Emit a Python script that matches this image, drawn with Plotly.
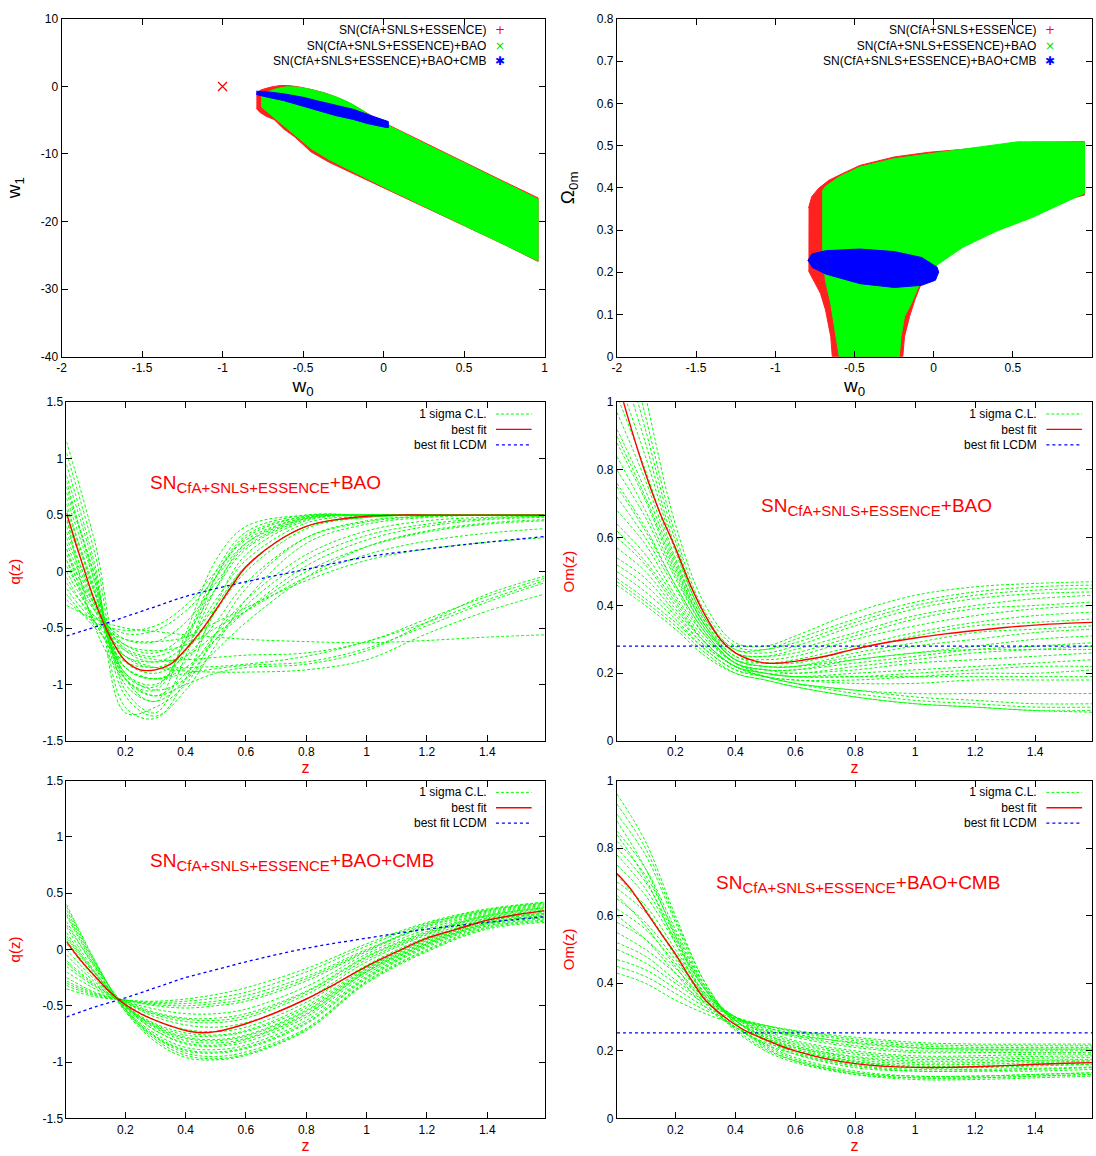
import plotly.graph_objects as go

W, H = 1096, 1156
FONT = "Liberation Sans"

# ---------------- data ----------------
# (a) w0 - w1 plane : boundaries of the confidence regions
sn_w0 = [-0.79, -0.76, -0.70, -0.64, -0.58, -0.52, -0.44, -0.36, -0.28, -0.20, -0.12, -0.05, 0.03, 0.25, 0.50, 0.75, 0.96,
         0.96, 0.75, 0.50, 0.25, 0.03, -0.19, -0.34, -0.45, -0.55, -0.62, -0.68, -0.73, -0.77, -0.79]
sn_w1 = [-1.0, -0.5, -0.1, 0.15, 0.1, -0.1, -0.5, -1.0, -1.7, -2.6, -3.7, -4.7, -5.7, -8.3, -11.2, -14.1, -16.5,
         -25.9, -23.4, -20.6, -17.8, -15.3, -12.9, -11.2, -9.7, -7.5, -6.3, -4.9, -4.4, -3.8, -3.2]
bao_w0 = [-0.76, -0.72, -0.66, -0.60, -0.54, -0.46, -0.38, -0.30, -0.22, -0.14, -0.06, 0.03, 0.25, 0.50, 0.75, 0.96,
          0.96, 0.75, 0.50, 0.25, 0.03, -0.19, -0.34, -0.45, -0.53, -0.60, -0.66, -0.72, -0.76]
bao_w1 = [-1.3, -0.8, -0.3, -0.05, -0.1, -0.4, -0.9, -1.5, -2.3, -3.4, -4.7, -5.8, -8.4, -11.3, -14.2, -16.7,
          -25.8, -23.4, -20.6, -17.8, -15.2, -12.6, -10.8, -9.2, -7.6, -6.3, -5.0, -3.8, -3.0]
cmb_w0 = [-0.79, -0.70, -0.62, -0.50, -0.40, -0.30, -0.186, -0.08, 0.0, 0.03, 0.03, 0.0, -0.10, -0.186, -0.30, -0.40,
          -0.50, -0.62, -0.72, -0.79]
cmb_w1 = [-0.7, -0.85, -1.1, -1.6, -2.2, -2.8, -3.4, -4.3, -4.9, -5.2, -6.1, -6.0, -5.5, -4.9, -4.3, -3.6,
          -2.9, -2.1, -1.6, -1.2]
lcdm_w0 = [-1.0]
lcdm_w1 = [0.0]

# (b) w0 - Omega_0m plane
sn_b_w0 = [-0.79, -0.77, -0.726, -0.661, -0.574, -0.466, -0.249, -0.032, 0.184, 0.618, 0.953, 0.953, 0.726, 0.509,
           0.292, 0.184, 0.054, -0.032, -0.087, -0.119, -0.152, -0.184, -0.195, -0.64, -0.65, -0.665, -0.683,
           -0.715, -0.758, -0.791]
sn_b_om = [0.352, 0.379, 0.399, 0.418, 0.434, 0.453, 0.473, 0.484, 0.491, 0.508, 0.509, 0.383, 0.360, 0.329,
           0.290, 0.266, 0.235, 0.204, 0.165, 0.134, 0.095, 0.048, 0.0, 0.0, 0.048, 0.079, 0.111,
           0.150, 0.181, 0.204]
bao_b_w0 = [-0.704, -0.683, -0.596, -0.466, -0.249, 0.184, 0.531, 0.953, 0.953, 0.618, 0.401, 0.184, 0.032, -0.06,
            -0.097, -0.141, -0.184, -0.206, -0.217, -0.596, -0.628, -0.65, -0.683, -0.704]
bao_b_om = [0.391, 0.403, 0.426, 0.449, 0.469, 0.491, 0.509, 0.508, 0.387, 0.329, 0.298, 0.259, 0.220, 0.19,
            0.165, 0.126, 0.095, 0.048, 0.0, 0.0, 0.079, 0.126, 0.181, 0.25]
cmb_b_w0 = [-0.795, -0.769, -0.683, -0.466, -0.249, -0.076, 0.022, 0.032, 0.011, -0.076, -0.249, -0.466, -0.683, -0.769]
cmb_b_om = [0.227, 0.243, 0.251, 0.255, 0.249, 0.235, 0.212, 0.200, 0.181, 0.169, 0.164, 0.173, 0.196, 0.212]

# redshift samples
z_grid = [0.005, 0.1, 0.2, 0.3, 0.4, 0.5, 0.6, 0.8, 1.0, 1.2, 1.4, 1.59]
z_fit = [0.005, 0.05, 0.1, 0.15, 0.2, 0.25, 0.3, 0.35, 0.4, 0.45, 0.5, 0.55, 0.6, 0.7, 0.8, 0.9, 1.0,
         1.1, 1.2, 1.3, 1.4, 1.5, 1.59]

# (c) q(z), SN+BAO : 1-sigma curves sampled at z_grid
q_bao_sigma = [
    [1.15, 0.25, -0.95, -1.15, -0.55, 0.10, 0.40, 0.50, 0.50, 0.50, 0.50, 0.50],
    [1.05, 0.15, -1.05, -1.25, -0.75, -0.05, 0.32, 0.49, 0.50, 0.50, 0.50, 0.50],
    [0.95, 0.05, -1.20, -1.30, -0.95, -0.30, 0.15, 0.45, 0.50, 0.50, 0.50, 0.50],
    [0.85, 0.00, -1.25, -1.20, -1.00, -0.55, -0.15, 0.30, 0.45, 0.49, 0.50, 0.50],
    [0.75, -0.05, -0.95, -1.05, -0.60, 0.00, 0.35, 0.50, 0.50, 0.50, 0.50, 0.50],
    [0.65, -0.10, -0.90, -1.00, -0.70, -0.15, 0.25, 0.48, 0.50, 0.50, 0.50, 0.50],
    [0.55, -0.15, -0.85, -0.95, -0.80, -0.35, 0.05, 0.40, 0.48, 0.50, 0.50, 0.50],
    [0.45, -0.20, -0.80, -0.90, -0.75, -0.45, -0.10, 0.30, 0.44, 0.49, 0.50, 0.50],
    [0.35, -0.25, -0.75, -0.85, -0.70, -0.35, 0.00, 0.38, 0.48, 0.50, 0.50, 0.50],
    [0.25, -0.30, -0.70, -0.80, -0.65, -0.25, 0.10, 0.43, 0.49, 0.50, 0.50, 0.50],
    [0.15, -0.30, -0.65, -0.72, -0.55, -0.15, 0.20, 0.46, 0.50, 0.50, 0.50, 0.50],
    [0.05, -0.35, -0.60, -0.62, -0.45, -0.10, 0.22, 0.47, 0.50, 0.50, 0.50, 0.50],
    [-0.10, -0.40, -0.55, -0.52, -0.35, -0.05, 0.25, 0.47, 0.50, 0.50, 0.50, 0.50],
    [-0.25, -0.45, -0.52, -0.48, -0.30, 0.00, 0.28, 0.48, 0.50, 0.50, 0.50, 0.50],
    [0.60, -0.20, -0.95, -1.10, -0.90, -0.55, -0.25, 0.15, 0.36, 0.45, 0.48, 0.49],
    [0.40, -0.28, -0.85, -0.95, -0.85, -0.60, -0.35, 0.05, 0.28, 0.40, 0.46, 0.48],
    [0.20, -0.35, -0.75, -0.80, -0.75, -0.55, -0.35, 0.00, 0.22, 0.35, 0.42, 0.45],
    [0.00, -0.40, -0.65, -0.70, -0.65, -0.50, -0.35, -0.05, 0.15, 0.27, 0.34, 0.38],
    [-0.15, -0.45, -0.60, -0.62, -0.58, -0.45, -0.32, -0.08, 0.10, 0.20, 0.26, 0.30],
    [0.80, -0.10, -1.00, -1.15, -0.95, -0.60, -0.30, 0.10, 0.32, 0.42, 0.47, 0.49],
    [0.30, -0.30, -0.90, -1.05, -0.95, -0.70, -0.45, -0.05, 0.22, 0.36, 0.43, 0.46],
    [0.70, -0.05, -1.10, -1.28, -1.05, -0.65, -0.25, 0.25, 0.42, 0.48, 0.50, 0.50],
    [0.50, -0.18, -0.92, -1.02, -0.62, -0.05, 0.30, 0.49, 0.50, 0.50, 0.50, 0.50],
    [0.10, -0.33, -0.68, -0.75, -0.62, -0.30, 0.05, 0.40, 0.48, 0.50, 0.50, 0.50],
    [-0.30, -0.42, -0.50, -0.53, -0.56, -0.58, -0.60, -0.62, -0.63, -0.61, -0.58, -0.56],
    [0.20, -0.45, -0.80, -0.85, -0.85, -0.84, -0.82, -0.75, -0.62, -0.45, -0.25, -0.08],
    [-0.20, -0.50, -0.75, -0.85, -0.88, -0.89, -0.89, -0.87, -0.78, -0.55, -0.35, -0.20],
    [0.50, -0.50, -0.95, -1.10, -1.00, -0.90, -0.85, -0.82, -0.70, -0.45, -0.20, -0.04],
    [0.10, -0.45, -0.85, -0.95, -0.90, -0.86, -0.83, -0.80, -0.68, -0.48, -0.27, -0.10],
    [-0.05, -0.45, -0.70, -0.78, -0.78, -0.76, -0.74, -0.72, -0.62, -0.42, -0.22, -0.06],
]
q_bao_fit = [0.52, 0.13, -0.27, -0.58, -0.79, -0.87, -0.87, -0.82, -0.69, -0.53, -0.34, -0.14, 0.04,
             0.26, 0.40, 0.46, 0.49, 0.50, 0.50, 0.50, 0.50, 0.50, 0.50]
q_bao_lcdm = [-0.57, -0.49, -0.40, -0.31, -0.22, -0.15, -0.09, 0.02, 0.13, 0.20, 0.26, 0.31]

# (d) Om(z), SN+BAO
om_bao_sigma = [
    [1.40, 1.02, 0.64, 0.40, 0.29, 0.28, 0.31, 0.38, 0.43, 0.455, 0.465, 0.47],
    [1.30, 0.96, 0.61, 0.38, 0.28, 0.27, 0.30, 0.36, 0.41, 0.44, 0.455, 0.46],
    [1.22, 0.92, 0.59, 0.37, 0.27, 0.27, 0.29, 0.35, 0.40, 0.43, 0.445, 0.45],
    [1.15, 0.88, 0.57, 0.36, 0.27, 0.26, 0.28, 0.34, 0.39, 0.42, 0.435, 0.44],
    [1.08, 0.84, 0.56, 0.36, 0.26, 0.25, 0.27, 0.32, 0.37, 0.40, 0.42, 0.43],
    [1.02, 0.80, 0.54, 0.35, 0.26, 0.25, 0.26, 0.31, 0.36, 0.39, 0.40, 0.41],
    [0.97, 0.77, 0.53, 0.35, 0.25, 0.24, 0.25, 0.30, 0.34, 0.37, 0.39, 0.40],
    [0.92, 0.74, 0.52, 0.34, 0.25, 0.23, 0.24, 0.28, 0.32, 0.35, 0.37, 0.38],
    [0.88, 0.71, 0.50, 0.34, 0.24, 0.23, 0.23, 0.27, 0.31, 0.34, 0.35, 0.36],
    [0.84, 0.68, 0.49, 0.33, 0.24, 0.22, 0.22, 0.26, 0.29, 0.32, 0.33, 0.34],
    [0.80, 0.66, 0.48, 0.33, 0.24, 0.22, 0.22, 0.25, 0.28, 0.30, 0.32, 0.33],
    [0.76, 0.63, 0.46, 0.32, 0.23, 0.21, 0.21, 0.24, 0.26, 0.28, 0.30, 0.31],
    [0.72, 0.60, 0.45, 0.31, 0.23, 0.21, 0.21, 0.23, 0.25, 0.27, 0.28, 0.29],
    [0.68, 0.58, 0.43, 0.31, 0.23, 0.21, 0.20, 0.22, 0.24, 0.26, 0.27, 0.28],
    [0.64, 0.55, 0.42, 0.30, 0.23, 0.20, 0.20, 0.21, 0.23, 0.24, 0.25, 0.26],
    [0.60, 0.52, 0.40, 0.29, 0.22, 0.20, 0.19, 0.20, 0.21, 0.22, 0.23, 0.24],
    [0.57, 0.50, 0.39, 0.29, 0.22, 0.20, 0.19, 0.19, 0.20, 0.21, 0.22, 0.22],
    [0.54, 0.48, 0.38, 0.28, 0.22, 0.19, 0.18, 0.18, 0.19, 0.20, 0.20, 0.21],
    [0.52, 0.46, 0.37, 0.28, 0.22, 0.19, 0.18, 0.17, 0.17, 0.18, 0.18, 0.18],
    [0.50, 0.44, 0.36, 0.27, 0.21, 0.19, 0.17, 0.15, 0.14, 0.14, 0.14, 0.14],
    [0.48, 0.42, 0.35, 0.27, 0.21, 0.19, 0.17, 0.14, 0.12, 0.11, 0.10, 0.10],
    [0.47, 0.41, 0.34, 0.26, 0.20, 0.18, 0.16, 0.13, 0.11, 0.10, 0.09, 0.09],
    [0.46, 0.40, 0.33, 0.25, 0.20, 0.18, 0.16, 0.13, 0.11, 0.10, 0.09, 0.085],
    [0.62, 0.53, 0.41, 0.29, 0.22, 0.19, 0.17, 0.15, 0.13, 0.12, 0.11, 0.11],
    [0.75, 0.62, 0.46, 0.32, 0.23, 0.20, 0.19, 0.19, 0.19, 0.19, 0.19, 0.19],
    [0.90, 0.72, 0.51, 0.34, 0.24, 0.22, 0.22, 0.24, 0.26, 0.27, 0.27, 0.27],
]
om_bao_fit = [1.07, 0.93, 0.79, 0.67, 0.57, 0.46, 0.37, 0.30, 0.26, 0.24, 0.23, 0.23, 0.235,
              0.25, 0.272, 0.29, 0.304, 0.316, 0.326, 0.335, 0.342, 0.347, 0.35]
om_bao_lcdm = [0.28, 0.28, 0.28, 0.28, 0.28, 0.28, 0.28, 0.28, 0.28, 0.28, 0.28, 0.28]

# (e) q(z), SN+BAO+CMB
q_cmb_sigma = [
    [0.40, -0.10, -0.55, -0.82, -0.96, -0.98, -0.94, -0.72, -0.30, -0.02, 0.18, 0.24],
    [0.38, -0.11, -0.54, -0.80, -0.94, -0.97, -0.93, -0.71, -0.29, -0.01, 0.19, 0.25],
    [0.35, -0.12, -0.53, -0.78, -0.92, -0.95, -0.91, -0.70, -0.28, 0.00, 0.20, 0.26],
    [0.32, -0.13, -0.53, -0.77, -0.89, -0.91, -0.87, -0.65, -0.25, 0.03, 0.22, 0.28],
    [0.30, -0.15, -0.55, -0.78, -0.90, -0.92, -0.88, -0.66, -0.26, 0.02, 0.21, 0.27],
    [0.25, -0.17, -0.53, -0.75, -0.87, -0.89, -0.85, -0.63, -0.24, 0.04, 0.23, 0.29],
    [0.22, -0.15, -0.50, -0.72, -0.83, -0.85, -0.80, -0.58, -0.20, 0.05, 0.23, 0.30],
    [0.20, -0.20, -0.52, -0.72, -0.84, -0.86, -0.82, -0.60, -0.22, 0.05, 0.24, 0.30],
    [0.15, -0.21, -0.51, -0.70, -0.81, -0.83, -0.79, -0.57, -0.20, 0.06, 0.25, 0.31],
    [0.12, -0.21, -0.50, -0.69, -0.79, -0.81, -0.77, -0.55, -0.19, 0.07, 0.25, 0.32],
    [0.10, -0.22, -0.50, -0.68, -0.78, -0.80, -0.76, -0.54, -0.18, 0.08, 0.26, 0.33],
    [0.08, -0.24, -0.51, -0.67, -0.76, -0.77, -0.73, -0.52, -0.17, 0.09, 0.27, 0.34],
    [0.05, -0.25, -0.50, -0.66, -0.74, -0.76, -0.72, -0.50, -0.16, 0.09, 0.26, 0.32],
    [0.00, -0.27, -0.48, -0.63, -0.71, -0.73, -0.69, -0.47, -0.14, 0.11, 0.28, 0.35],
    [-0.05, -0.29, -0.47, -0.60, -0.67, -0.69, -0.65, -0.44, -0.11, 0.13, 0.29, 0.36],
    [-0.10, -0.31, -0.47, -0.58, -0.64, -0.65, -0.61, -0.40, -0.09, 0.14, 0.30, 0.37],
    [-0.12, -0.32, -0.47, -0.57, -0.62, -0.63, -0.59, -0.38, -0.07, 0.15, 0.30, 0.37],
    [-0.15, -0.33, -0.46, -0.56, -0.61, -0.61, -0.57, -0.37, -0.06, 0.16, 0.31, 0.38],
    [-0.20, -0.35, -0.46, -0.53, -0.57, -0.57, -0.53, -0.33, -0.04, 0.18, 0.32, 0.39],
    [-0.25, -0.38, -0.45, -0.50, -0.52, -0.50, -0.46, -0.28, -0.02, 0.21, 0.34, 0.41],
    [-0.28, -0.39, -0.45, -0.49, -0.50, -0.48, -0.44, -0.26, -0.01, 0.22, 0.35, 0.42],
    [-0.30, -0.40, -0.45, -0.48, -0.48, -0.46, -0.41, -0.24, 0.00, 0.20, 0.33, 0.40],
    [-0.32, -0.41, -0.45, -0.47, -0.46, -0.43, -0.38, -0.20, 0.03, 0.23, 0.35, 0.41],
    [-0.35, -0.42, -0.45, -0.46, -0.44, -0.40, -0.34, -0.17, 0.05, 0.24, 0.36, 0.42],
]
q_cmb_fit = [0.07, -0.09, -0.24, -0.38, -0.49, -0.57, -0.63, -0.68, -0.72, -0.74, -0.73, -0.70, -0.66,
             -0.56, -0.44, -0.30, -0.15, -0.02, 0.10, 0.18, 0.26, 0.31, 0.345]
q_cmb_lcdm = [-0.60, -0.51, -0.43, -0.34, -0.25, -0.18, -0.11, 0.01, 0.10, 0.18, 0.24, 0.29]

# (f) Om(z), SN+BAO+CMB
om_cmb_sigma = [
    [0.96, 0.82, 0.60, 0.40, 0.28, 0.21, 0.17, 0.13, 0.115, 0.115, 0.12, 0.125],
    [0.93, 0.80, 0.59, 0.40, 0.28, 0.215, 0.175, 0.135, 0.12, 0.12, 0.125, 0.13],
    [0.90, 0.78, 0.58, 0.39, 0.28, 0.22, 0.18, 0.14, 0.125, 0.125, 0.13, 0.135],
    [0.88, 0.74, 0.54, 0.36, 0.26, 0.20, 0.165, 0.13, 0.12, 0.12, 0.125, 0.13],
    [0.85, 0.74, 0.56, 0.39, 0.29, 0.23, 0.19, 0.15, 0.14, 0.14, 0.14, 0.145],
    [0.84, 0.71, 0.52, 0.355, 0.265, 0.205, 0.17, 0.135, 0.125, 0.125, 0.13, 0.135],
    [0.82, 0.72, 0.55, 0.385, 0.29, 0.235, 0.195, 0.158, 0.145, 0.145, 0.148, 0.152],
    [0.80, 0.70, 0.54, 0.38, 0.29, 0.24, 0.20, 0.165, 0.15, 0.15, 0.155, 0.16],
    [0.78, 0.68, 0.53, 0.38, 0.29, 0.24, 0.205, 0.17, 0.155, 0.155, 0.16, 0.165],
    [0.75, 0.66, 0.52, 0.38, 0.29, 0.245, 0.21, 0.175, 0.16, 0.16, 0.165, 0.17],
    [0.72, 0.62, 0.48, 0.35, 0.27, 0.22, 0.19, 0.155, 0.14, 0.14, 0.145, 0.15],
    [0.70, 0.63, 0.50, 0.37, 0.295, 0.25, 0.215, 0.183, 0.17, 0.17, 0.172, 0.175],
    [0.68, 0.61, 0.49, 0.37, 0.30, 0.25, 0.22, 0.19, 0.175, 0.175, 0.178, 0.18],
    [0.66, 0.57, 0.45, 0.34, 0.27, 0.225, 0.20, 0.168, 0.152, 0.152, 0.157, 0.16],
    [0.65, 0.58, 0.47, 0.365, 0.30, 0.255, 0.225, 0.195, 0.18, 0.18, 0.183, 0.185],
    [0.62, 0.56, 0.46, 0.36, 0.30, 0.26, 0.23, 0.20, 0.185, 0.185, 0.19, 0.19],
    [0.60, 0.53, 0.43, 0.33, 0.27, 0.235, 0.21, 0.18, 0.165, 0.165, 0.17, 0.17],
    [0.58, 0.53, 0.445, 0.355, 0.30, 0.265, 0.24, 0.21, 0.195, 0.195, 0.195, 0.195],
    [0.55, 0.50, 0.43, 0.35, 0.30, 0.27, 0.245, 0.215, 0.20, 0.20, 0.20, 0.20],
    [0.52, 0.48, 0.41, 0.345, 0.30, 0.27, 0.25, 0.222, 0.208, 0.205, 0.205, 0.205],
    [0.50, 0.46, 0.40, 0.34, 0.30, 0.275, 0.255, 0.23, 0.215, 0.21, 0.21, 0.21],
    [0.47, 0.44, 0.385, 0.33, 0.295, 0.275, 0.258, 0.235, 0.22, 0.215, 0.215, 0.215],
    [0.45, 0.42, 0.37, 0.32, 0.29, 0.275, 0.26, 0.24, 0.225, 0.22, 0.22, 0.22],
    [0.43, 0.40, 0.35, 0.31, 0.28, 0.26, 0.245, 0.225, 0.21, 0.205, 0.205, 0.205],
]
om_cmb_fit = [0.725, 0.68, 0.615, 0.55, 0.486, 0.415, 0.35, 0.31, 0.277, 0.252, 0.233, 0.215, 0.20,
              0.177, 0.162, 0.154, 0.151, 0.151, 0.153, 0.156, 0.16, 0.163, 0.165]
om_cmb_lcdm = [0.253, 0.253, 0.253, 0.253, 0.253, 0.253, 0.253, 0.253, 0.253, 0.253, 0.253, 0.253]

# tick labels
w0_ticks = [-2, -1.5, -1, -0.5, 0, 0.5, 1]
w0_labels = ["-2", "-1.5", "-1", "-0.5", "0", "0.5", "1"]
w0_ticks_right = [-2, -1.5, -1, -0.5, 0, 0.5]
w0_labels_right = ["-2", "-1.5", "-1", "-0.5", "0", "0.5"]
w1_ticks = [10, 0, -10, -20, -30, -40]
w1_labels = ["10", "0", "-10", "-20", "-30", "-40"]
om0_ticks = [0, 0.1, 0.2, 0.3, 0.4, 0.5, 0.6, 0.7, 0.8]
om0_labels = ["0", "0.1", "0.2", "0.3", "0.4", "0.5", "0.6", "0.7", "0.8"]
z_ticks = [0.2, 0.4, 0.6, 0.8, 1.0, 1.2, 1.4]
z_labels = ["0.2", "0.4", "0.6", "0.8", "1", "1.2", "1.4"]
q_ticks = [1.5, 1, 0.5, 0, -0.5, -1, -1.5]
q_labels = ["1.5", "1", "0.5", "0", "-0.5", "-1", "-1.5"]
om_ticks = [0, 0.2, 0.4, 0.6, 0.8, 1]
om_labels = ["0", "0.2", "0.4", "0.6", "0.8", "1"]

# legend texts
region_names = ["SN(CfA+SNLS+ESSENCE)", "SN(CfA+SNLS+ESSENCE)+BAO", "SN(CfA+SNLS+ESSENCE)+BAO+CMB"]
curve_names = ["1 sigma C.L.", "best fit", "best fit LCDM"]

# ---------------- colours / styles ----------------
RED = "#ff0000"
GREEN = "#00ff00"
BLUE = "#0000ff"


def xdom(a, b):
    return [a / W, b / W]


def ydom(top, bottom):
    return [1 - bottom / H, 1 - top / H]


def px(x):
    return x / W


def py(y):
    return 1 - y / H


fig = go.Figure()


def region(x, y, color, name, xa, ya):
    fig.add_trace(go.Scatter(x=x, y=y, mode="lines", fill="toself", fillcolor=color,
                             line=dict(color=color, width=1), name=name, showlegend=False,
                             xaxis=xa, yaxis=ya, hoverinfo="skip"))


# panel (a)
region(sn_w0, sn_w1, "#ff2020", region_names[0], "x", "y")
region(bao_w0, bao_w1, GREEN, region_names[1], "x", "y")
region(cmb_w0, cmb_w1, BLUE, region_names[2], "x", "y")
fig.add_trace(go.Scatter(x=lcdm_w0, y=lcdm_w1, mode="markers", showlegend=False, name="LCDM",
                         marker=dict(symbol="x-thin", size=9, line=dict(color=RED, width=1.3)),
                         xaxis="x", yaxis="y"))
# panel (b)
region(sn_b_w0, sn_b_om, "#ff2020", region_names[0], "x2", "y2")
region(bao_b_w0, bao_b_om, GREEN, region_names[1], "x2", "y2")
region(cmb_b_w0, cmb_b_om, BLUE, region_names[2], "x2", "y2")


def curves(sigma, fit, lcdm, xa, ya):
    for s in sigma:
        fig.add_trace(go.Scatter(x=z_grid, y=s, mode="lines", line_shape="spline",
                                 line=dict(color=GREEN, width=1, dash="3px,2px"),
                                 name=curve_names[0], showlegend=False, xaxis=xa, yaxis=ya,
                                 hoverinfo="skip"))
    fig.add_trace(go.Scatter(x=z_grid, y=lcdm, mode="lines", line_shape="spline",
                             line=dict(color=BLUE, width=1.3, dash="dot"),
                             name=curve_names[2], showlegend=False, xaxis=xa, yaxis=ya))
    fig.add_trace(go.Scatter(x=z_fit, y=fit, mode="lines", line_shape="spline",
                             line=dict(color=RED, width=1.4),
                             name=curve_names[1], showlegend=False, xaxis=xa, yaxis=ya))


curves(q_bao_sigma, q_bao_fit, q_bao_lcdm, "x3", "y3")
curves(om_bao_sigma, om_bao_fit, om_bao_lcdm, "x4", "y4")
curves(q_cmb_sigma, q_cmb_fit, q_cmb_lcdm, "x5", "y5")
curves(om_cmb_sigma, om_cmb_fit, om_cmb_lcdm, "x6", "y6")

# ---------------- axes ----------------
tickfont = dict(family=FONT, size=12, color="black")
base = dict(showline=True, linecolor="black", linewidth=1, mirror="ticks", ticks="inside",
            ticklen=6, tickcolor="black", showgrid=False, zeroline=False, tickfont=tickfont,
            tickmode="array")

cols = {"L": (57, 544), "R": (617, 1096)}
cols_c = {"L": (62, 544), "R": (617, 1096)}
rows = [(12, 354), (400, 743), (783, 1125)]

blk = dict(family=FONT, size=19, color="black")
lay = {}
lay["xaxis"] = dict(base, domain=xdom(*cols["L"]), range=[-2, 1], tickvals=w0_ticks, ticktext=w0_labels,
                    anchor="y", title=dict(text="w<sub>0</sub>", font=blk, standoff=0))
lay["yaxis"] = dict(base, domain=ydom(*rows[0]), range=[-40, 10], tickvals=w1_ticks, ticktext=w1_labels,
                    anchor="x", title=dict(text="w<sub>1</sub>", font=blk, standoff=15))
lay["xaxis2"] = dict(base, domain=xdom(*cols["R"]), range=[-2, 1], tickvals=w0_ticks_right,
                     ticktext=w0_labels_right, anchor="y2",
                     title=dict(text="w<sub>0</sub>", font=blk, standoff=0))
lay["yaxis2"] = dict(base, domain=ydom(*rows[0]), range=[0, 0.8], tickvals=om0_ticks, ticktext=om0_labels,
                     anchor="x2", title=dict(text="Ω<sub>0m</sub>", font=blk, standoff=17))

zt = dict(text="z", font=dict(family=FONT, size=16, color=RED), standoff=2)
for i, (c, r, yt, yl, yr, ylab) in enumerate([
        ("L", rows[1], q_ticks, q_labels, [-1.5, 1.5], "q(z)"),
        ("R", rows[1], om_ticks, om_labels, [0, 1], "Om(z)"),
        ("L", rows[2], q_ticks, q_labels, [-1.5, 1.5], "q(z)"),
        ("R", rows[2], om_ticks, om_labels, [0, 1], "Om(z)")]):
    n = i + 3
    lay[f"xaxis{n}"] = dict(base, domain=xdom(*cols_c[c]), range=[0.005, 1.59], tickvals=z_ticks,
                            ticktext=z_labels, anchor=f"y{n}", title=zt)
    lay[f"yaxis{n}"] = dict(base, domain=ydom(*r), range=yr, tickvals=yt, ticktext=yl, anchor=f"x{n}",
                            title=dict(text=ylab, font=dict(family=FONT, size=15, color=RED), standoff=18))

# ---------------- legends (text right-aligned, key on the right, as in the original) ----------------
ann = []
shapes = []
LF = 12
lfont = dict(family=FONT, size=LF, color="black")
SP = LF * 1.3  # plotly multi-line spacing

keys_html = ('<span style="color:#ff0000">+</span><br>'
             '<span style="color:#00e000">×</span><br>'
             '<span style="color:#0000ff">✱</span>')
for xr, xk in [(487, 499), (1042, 1054)]:
    yc = 23 + SP
    ann.append(dict(text="<br>".join(region_names), x=px(xr), y=py(yc), xref="paper", yref="paper",
                    xanchor="right", yanchor="middle", align="right", showarrow=False, font=lfont))
    ann.append(dict(text=keys_html, x=px(xk), y=py(yc), xref="paper", yref="paper",
                    xanchor="center", yanchor="middle", align="center", showarrow=False,
                    font=dict(family="DejaVu Sans", size=LF, color="black")))

curve_keys = [(GREEN, "3px,2px", 1), (RED, "solid", 1.4), (BLUE, "dot", 1.3)]
for xr, x0, x1, y1st in [(488, 495, 531, 412), (1043, 1050, 1086, 412),
                         (488, 495, 531, 795), (1043, 1050, 1086, 795)]:
    yc = y1st + SP
    ann.append(dict(text="<br>".join(curve_names), x=px(xr), y=py(yc), xref="paper", yref="paper",
                    xanchor="right", yanchor="middle", align="right", showarrow=False, font=lfont))
    for k, (col, dash, lw) in enumerate(curve_keys):
        yy = yc + (k - 1) * SP
        shapes.append(dict(type="line", xref="paper", yref="paper", x0=px(x0), x1=px(x1),
                           y0=py(yy), y1=py(yy), line=dict(color=col, width=lw, dash=dash)))

# in-panel dataset labels
sub = '<sub><span style="font-size:15px">CfA+SNLS+ESSENCE</span></sub>'
for txt, xx, yy in [("SN" + sub + "+BAO", 144, 483),
                    ("SN" + sub + "+BAO", 760, 506),
                    ("SN" + sub + "+BAO+CMB", 144, 865),
                    ("SN" + sub + "+BAO+CMB", 715, 888)]:
    ann.append(dict(text=txt, x=px(xx), y=py(yy), xref="paper", yref="paper", xanchor="left",
                    yanchor="middle", showarrow=False, font=dict(family=FONT, size=19, color=RED)))

fig.update_layout(width=W, height=H, margin=dict(l=0, r=0, t=0, b=0), paper_bgcolor="white",
                  plot_bgcolor="white", showlegend=False, annotations=ann, shapes=shapes,
                  font=dict(family=FONT, color="black"), **lay)

fig.write_html("out.html", config={"displayModeBar": False},
               post_script="document.body.style.margin='0';document.body.style.overflow='hidden';")
